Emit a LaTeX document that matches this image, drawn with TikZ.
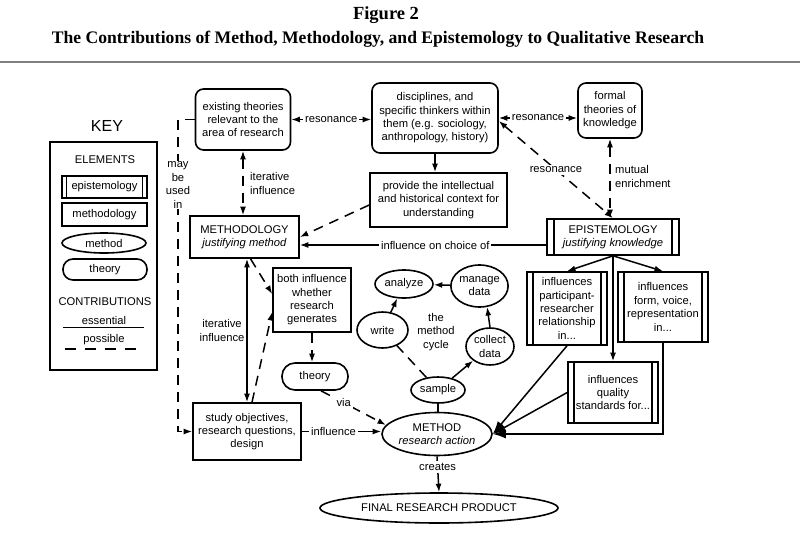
\documentclass[tikz,border=0pt]{standalone}
\usepackage{fontspec}
\setmainfont{Liberation Sans}
\newfontfamily\titlefont{Liberation Serif}
\usetikzlibrary{shapes.geometric,arrows.meta,calc}
\begin{document}
\begin{tikzpicture}[x=1pt,y=-1pt,
  every node/.style={font=\fontsize{11.2}{13.4}\selectfont, inner sep=0pt, align=center},
  sbox/.style={draw, line width=1.6pt, rectangle},
  rbox/.style={draw, line width=1.6pt, rectangle, rounded corners=8pt},
  ellbox/.style={draw, line width=1.6pt, ellipse},
  barbox/.style={draw, line width=1.6pt, rectangle,
    path picture={
      \draw[line width=1.6pt] ([xshift=#1]path picture bounding box.north west) -- ([xshift=#1]path picture bounding box.south west);
      \draw[line width=1.6pt] ([xshift=-#1]path picture bounding box.north east) -- ([xshift=-#1]path picture bounding box.south east);}},
  barbox/.default=6pt,
  conn/.style={line width=1.5pt},
  dsh/.style={line width=1.5pt, dash pattern=on 10pt off 7pt},
  lbl/.style={fill=white, inner sep=2pt},
  >={Latex[length=8.5pt,width=6pt]},
  big/.style={-{Latex[length=13pt,width=9pt]}}
]
\useasboundingbox (0,0) rectangle (807,536);

% title
\node[font=\titlefont\bfseries\fontsize{18.5}{20}\selectfont] (title1) at (386,15) {Figure 2};
\node[font=\titlefont\bfseries\fontsize{17.6}{20}\selectfont] (title2) at (378,39) {The Contributions of Method, Methodology, and Epistemology to Qualitative Research};
\draw[line width=1.6pt, black!50] (0,62) -- (800,62);

% key
\node[font=\fontsize{16}{18}\selectfont] (keytitle) at (107,126) {KEY};
\node[sbox, minimum width=107pt, minimum height=228pt] (keybox) at (103.5,256) {};
\node (kelem) at (105,160) {ELEMENTS};
\node[barbox=4.5pt, minimum width=85pt, minimum height=22pt] (kepi) at (104.5,187) {epistemology};
\node[sbox, minimum width=85pt, minimum height=23pt] (kmeth) at (104.5,214.5) {methodology};
\node[ellbox, minimum width=84pt, minimum height=20pt] (kmethod) at (104,243) {method};
\node[sbox, rounded corners=10pt, minimum width=84pt, minimum height=21pt] (ktheory) at (105,269.5) {theory};
\node (kcontr) at (105,302) {CONTRIBUTIONS};
\node (kess) at (104,320) {essential};
\draw[conn] (63,327.5) -- (144,327.5);
\node (kposs) at (104,340) {possible};
\draw[dsh, dash pattern=on 11pt off 9pt] (65,349) -- (145,349);

% main nodes
\node[rbox, minimum width=95pt, minimum height=61pt] (exist) at (243,119.5) {existing theories\\relevant to the\\area of research};
\node[rbox, minimum width=126pt, minimum height=70pt] (disc) at (435,118) {disciplines, and\\specific thinkers within\\them (e.g. sociology,\\anthropology, history)};
\node[rbox, minimum width=64pt, minimum height=55pt] (formal) at (610,110.5) {formal\\theories of\\knowledge};
\node[sbox, minimum width=137pt, minimum height=54pt] (provide) at (438.5,200) {provide the intellectual\\and historical context for\\understanding};
\node[sbox, minimum width=109pt, minimum height=42pt] (meth) at (244.5,237) {METHODOLOGY\\\textit{justifying method}};
\node[barbox=7pt, minimum width=132pt, minimum height=36pt] (epist) at (613,237) {EPISTEMOLOGY\\\textit{justifying knowledge}};
\node[sbox, minimum width=78pt, minimum height=64pt] (both) at (312,300) {both influence\\whether\\research\\generates};
\node[sbox, rounded corners=13pt, minimum width=66pt, minimum height=27pt] (theory) at (315,376.5) {theory};
\node[sbox, minimum width=108pt, minimum height=57pt] (study) at (247,431.5) {study objectives,\\research questions,\\design};
\node[barbox=6pt, minimum width=80pt, minimum height=73pt] (part) at (567,308.5) {influences\\participant-\\researcher\\relationship\\in...};
\node[barbox=6pt, minimum width=90pt, minimum height=70pt] (form) at (663,307) {influences\\form, voice,\\representation\\in...};
\node[barbox=6pt, minimum width=90pt, minimum height=61pt] (quality) at (613,392.5) {influences\\quality\\standards for...};
\node[ellbox, minimum width=110pt, minimum height=43pt] (method) at (437,434) {METHOD\\\textit{research action}};
\node[ellbox, minimum width=54pt, minimum height=26pt] (sample) at (438,390) {sample};
\node[ellbox, minimum width=48pt, minimum height=37pt] (collect) at (490,346.5) {collect\\data};
\node[ellbox, minimum width=55pt, minimum height=42pt] (manage) at (479.5,286) {manage\\data};
\node[ellbox, minimum width=58pt, minimum height=28pt] (analyze) at (404,284) {analyze};
\node[ellbox, minimum width=51pt, minimum height=36pt] (write) at (382.5,330) {write};
\node (cycle) at (436,332) {the\\method\\cycle};
\node[ellbox, minimum width=238pt, minimum height=30pt] (final) at (439,508) {FINAL RESEARCH PRODUCT};

% connectors
\draw[conn,<->] (exist.east) -- node[lbl] {resonance} (exist.east -| disc.west);
\draw[conn,<->] (disc.east) -- node[lbl] {resonance} (disc.east -| formal.west);
\draw[dsh,<->] ([yshift=-3pt]disc.east) -- node[lbl, pos=0.5] {resonance} (epist.north);
\draw[dsh,<->] (formal.south) -- (formal.south |- epist.north);
\node[anchor=west, align=left] (mutual) at (615,176.5) {mutual\\enrichment};
\draw[dsh,<->] (exist.south) -- (exist.south |- meth.north);
\node[anchor=west, align=left] (iter1) at (250,183.5) {iterative\\influence};
\draw[conn,->] (disc.south) -- (disc.south |- provide.north);
\draw[dsh,->] ([yshift=-5pt]provide.west) -- (meth.east);
\draw[conn,->] ([yshift=-8pt]epist.west) -- node[lbl, pos=0.45] {influence on choice of} ([yshift=-8pt]meth.east);
\draw[conn,->] (epist.south) -- (part.north);
\draw[conn,->] (epist.south) -- (form.north);
\draw[conn,->] (epist.south) -- (quality.north);
\draw[conn,big] (part.south) -- (method.east);
\draw[conn,big] (quality.west) -- (method.east);
\draw[conn,big] (form.south) |- (method.east);
\draw[conn,<->] ([xshift=2.5pt]meth.south) -- ([xshift=2.5pt]meth.south |- study.north);
\node (iter2) at (222,330.5) {iterative\\influence};
\draw[dsh,->] ([xshift=6pt]meth.south) -- ([yshift=6pt]both.west);
\draw[dsh,->] ([xshift=5pt]study.north) -- ([yshift=-12pt]both.west);
\draw[dsh,->] (both.south) -- (both.south |- theory.north);
\draw[dsh,->] ([xshift=6pt]theory.south) -- node[lbl, pos=0.35] {via} (method.170);
\draw[conn,->] (study.east) -- node[lbl, pos=0.4] {influence} (study.east -| method.west);
\draw[conn,->] (method.south) -- node[lbl, pos=0.3] {creates} (final.north);
\draw[conn] (sample.south) -- (sample.south |- method.north);
\draw[conn,->] (sample) -- (collect);
\draw[conn,->] (collect.north) -- (manage.-70);
\draw[conn,->] (manage) -- (analyze);
\draw[conn,->] (write) -- (analyze);
\draw[dsh] (sample) -- (write);

% may be used in
\coordinate (mayx) at (178,0);
\draw[dsh,->] (exist.west) -- (exist.west -| mayx) -- (study.west -| mayx) -- (study.west);
\node[fill=white, inner sep=1pt] (maylbl) at (178,185) {may\\be\\used\\in};
\end{tikzpicture}
\end{document}
